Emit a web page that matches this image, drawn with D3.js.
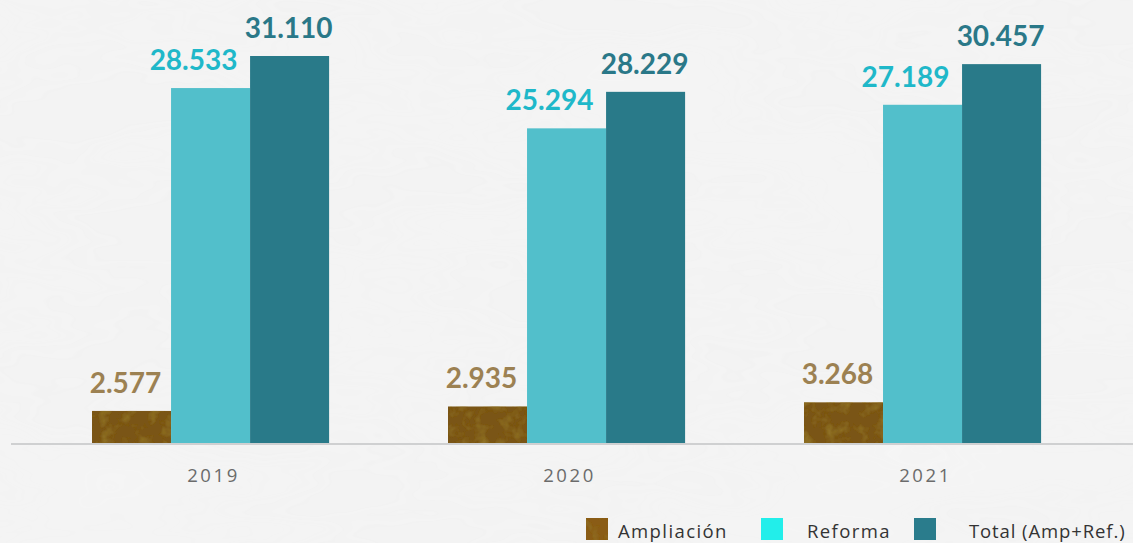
<!DOCTYPE html>
<html>
<head>
<meta charset="utf-8">
<script src="https://cdn.jsdelivr.net/npm/d3@7"></script>
<style>
	body { margin: 0; background: #f1f1f1; }
	svg { display: block; }
</style>
</head>
<body>
<div id="chart"><svg width="1133" height="543"></svg></div>
<script>
var years = ["2019", "2020", "2021"];
var seriesNames = ["Ampliación", "Reforma", "Total (Amp+Ref.)"];
var ampliacion = [2577, 2935, 3268];
var reforma = [28533, 25294, 27189];
var total = [31110, 28229, 30457];
var labels = {
	"Ampliación": ["2.577", "2.935", "3.268"],
	"Reforma": ["28.533", "25.294", "27.189"],
	"Total (Amp+Ref.)": ["31.110", "28.229", "30.457"]
};

(function () {
	var svg = d3.select("#chart svg");
	var width = +svg.attr("width"), height = +svg.attr("height");
	var baseY = 443;

	var defs = svg.append("defs");
	var bgf = defs.append("filter").attr("id", "paper").attr("x", 0).attr("y", 0).attr("width", "100%").attr("height", "100%");
	bgf.append("feTurbulence").attr("type", "fractalNoise").attr("baseFrequency", "0.004 0.012").attr("numOctaves", 4).attr("seed", 3);
	bgf.append("feColorMatrix").attr("type", "matrix")
		.attr("values", "0 0 0 0 0.92  0 0 0 0 0.92  0 0 0 0 0.92  0 0 0 -1.1 0.75");
	// brownish leather look for the Ampliación marks
	var brf = defs.append("filter").attr("id", "leather").attr("x", 0).attr("y", 0).attr("width", "100%").attr("height", "100%");
	brf.append("feTurbulence").attr("type", "fractalNoise").attr("baseFrequency", "0.08").attr("numOctaves", 3).attr("seed", 7);
	brf.append("feColorMatrix").attr("type", "matrix")
		.attr("values", "0 0 0 0 0.28  0 0 0 0 0.17  0 0 0 0 0.02  0 0 0 -2.4 1.25");
	brf.append("feComposite").attr("in2", "SourceGraphic").attr("operator", "in");
	brf.append("feMerge").call(function (m) {
		m.append("feMergeNode").attr("in", "SourceGraphic");
		m.append("feMergeNode");
	});

	svg.append("rect").attr("width", width).attr("height", height).attr("fill", "#f3f3f3");
	svg.append("rect").attr("width", width).attr("height", height).attr("fill", "#fff").attr("filter", "url(#paper)").attr("opacity", 0.9);

	var x = d3.scaleBand().domain(years).range([13.7, 1119.4]).paddingInner(0.334).paddingOuter(0.22);
	var xs = d3.scaleBand().domain(seriesNames).range([0, x.bandwidth()]);
	var y = d3.scaleLinear().domain([0, 31110]).range([baseY, 56]);

	var colors = { "Ampliación": "#7a5417", "Reforma": "#52bfcb", "Total (Amp+Ref.)": "#297a89" };
	var legendColors = { "Ampliación": "#8a5c16", "Reforma": "#22eeea", "Total (Amp+Ref.)": "#2a7c8c" };
	var labelColors = { "Ampliación": "#9c8152", "Reforma": "#1fb8c9", "Total (Amp+Ref.)": "#2a7888" };
	var labelDx = { "Ampliación": -6, "Reforma": -17, "Total (Amp+Ref.)": -1 };
	var values = { "Ampliación": ampliacion, "Reforma": reforma, "Total (Amp+Ref.)": total };

	// axis line
	svg.append("line").attr("x1", 11).attr("x2", width).attr("y1", baseY + 1).attr("y2", baseY + 1)
		.attr("stroke", "#cfd0d1").attr("stroke-width", 2);

	var g = svg.append("g");
	seriesNames.forEach(function (s) {
		var data = years.map(function (yr, i) { return { year: yr, v: values[s][i], label: labels[s][i] }; });
		g.selectAll(".bar-" + s.charAt(0))
			.data(data)
			.enter().append("rect")
			.attr("x", function (d) { return x(d.year) + xs(s); })
			.attr("y", function (d) { return y(d.v); })
			.attr("width", xs.bandwidth())
			.attr("height", function (d) { return baseY - y(d.v); })
			.attr("fill", colors[s])
			.attr("filter", s === "Ampliación" ? "url(#leather)" : null);
		g.selectAll(".lab-" + s.charAt(0))
			.data(data)
			.enter().append("text")
			.attr("x", function (d) { return x(d.year) + xs(s) + xs.bandwidth() / 2 + labelDx[s]; })
			.attr("y", function (d) { return y(d.v) - 18; })
			.attr("text-anchor", "middle")
			.attr("font-family", "Lato, sans-serif")
			.attr("font-weight", "bold")
			.attr("font-size", 28)
			.attr("fill", labelColors[s])
			.text(function (d) { return d.label; });
	});

	svg.selectAll(".year")
		.data(years)
		.enter().append("text")
		.attr("x", function (d) { return x(d) + x.bandwidth() / 2 + 3; })
		.attr("y", 482)
		.attr("text-anchor", "middle")
		.attr("font-family", "'Open Sans', sans-serif")
		.attr("font-size", 18.5)
		.attr("letter-spacing", 2.6)
		.attr("fill", "#6b6b6b")
		.text(function (d) { return d; });

	var legendX = [586, 761, 914];
	var lg = svg.selectAll(".legend")
		.data(seriesNames)
		.enter().append("g")
		.attr("transform", function (d, i) { return "translate(" + legendX[i] + ",518)"; });
	lg.append("rect").attr("width", 22).attr("height", 22)
		.attr("fill", function (d) { return legendColors[d]; })
		.attr("filter", function (d) { return d === "Ampliación" ? "url(#leather)" : null; });
	lg.append("text")
		.attr("x", function (d, i) { return [32, 46, 55][i]; })
		.attr("y", 20)
		.attr("font-family", "'Open Sans', sans-serif")
		.attr("font-size", 18.5)
		.attr("letter-spacing", function (d, i) { return i === 2 ? 0.9 : 1.4; })
		.attr("fill", "#333")
		.text(function (d) { return d; });
})();
</script>
</body>
</html>
